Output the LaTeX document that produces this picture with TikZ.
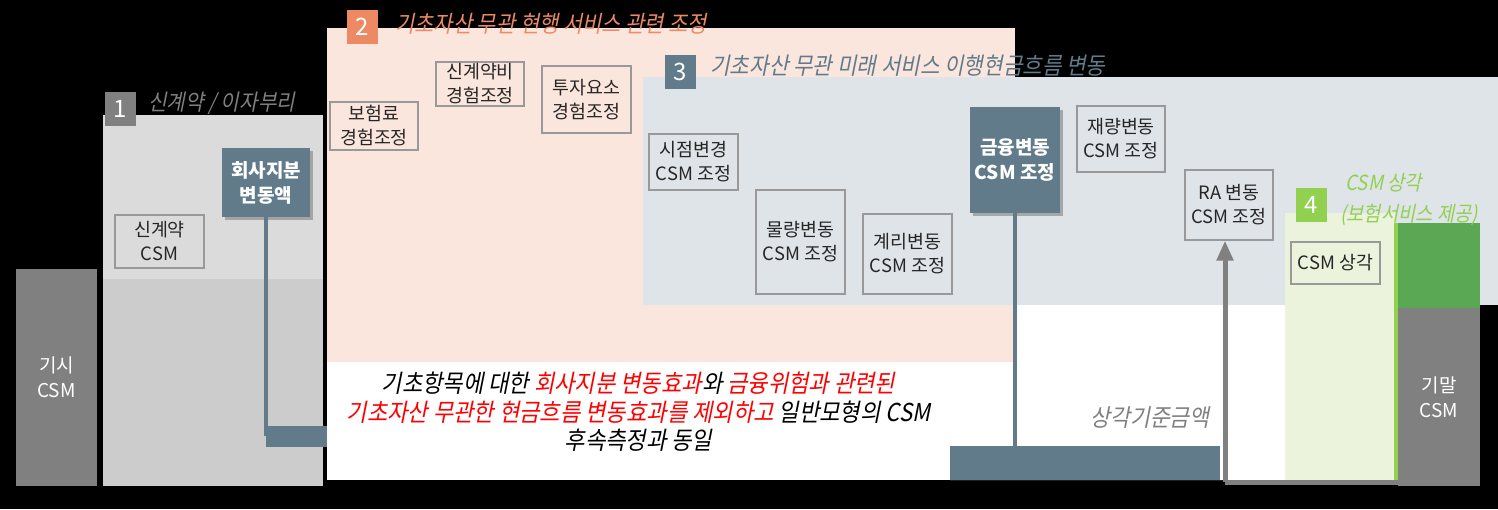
\documentclass[tikz,border=0pt]{standalone}
\usepackage{fontspec}
\setmainfont{Noto Sans CJK KR}
\newfontfamily\krit{Noto Sans CJK KR}[FakeSlant=0.2,FakeStretch=0.9]
\usetikzlibrary{shadows,arrows.meta}
\definecolor{slate}{HTML}{617B8A}
\definecolor{panelgray}{HTML}{DBDBDB}
\definecolor{panelgrayd}{HTML}{CCCCCC}
\definecolor{panelpink}{HTML}{FBE6DE}
\definecolor{tabpink}{HTML}{EE8A63}
\definecolor{panelblue}{HTML}{DEE4E8}
\definecolor{panelgreen}{HTML}{EBF3DC}
\definecolor{tabgreen}{HTML}{92D050}
\definecolor{darkgreen}{HTML}{5AA854}
\definecolor{bargray}{HTML}{808080}
\definecolor{txtred}{HTML}{FF0000}
\begin{document}
\begin{tikzpicture}[x=0.5pt,y=-0.5pt,
  cbox/.style={draw=bargray!80,line width=0.6pt,align=center,inner sep=0pt,font=\fontsize{9.2}{12}\selectfont,text=black!85},
  sbox/.style={fill=slate,align=center,inner sep=0pt,font=\bfseries\fontsize{9.5}{12.5}\selectfont,text=white,drop shadow={shadow xshift=1.5pt,shadow yshift=-1.5pt,opacity=0.6}},
  csmbar/.style={fill=bargray,align=center,inner sep=0pt,font=\fontsize{9.5}{12.5}\selectfont,text=white},
  tab/.style={minimum width=15.5pt,minimum height=17pt,inner sep=0pt,text=white,font=\fontsize{12}{12}\selectfont},
  head/.style={anchor=west,font=\krit\fontsize{11.2}{12}\selectfont,inner sep=0pt}]
\useasboundingbox (0,0) rectangle (1498,509);
\fill[black] (0,0) rectangle (1498,509);

% The panels
\fill[panelgray] (103,115) rectangle (323,279);
\fill[panelgrayd] (103,279) rectangle (323,486);
\fill[panelpink] (327,28) rectangle (1015,362);
\fill[panelblue] (643,77) rectangle (1498,305);
\fill[panelgreen] (1285,213) rectangle (1395,484);
\fill[darkgreen] (1395,223) rectangle (1480,308);
\fill[tabgreen] (1394,223) rectangle (1398,482);
\fill[white] (950,362) -- (1015,362) -- (1015,305) -- (1285,305) -- (1285,480) -- (950,480) -- cycle;

% The note
\node[fill=white,minimum width=311.5pt,minimum height=59pt,inner sep=0pt] (note) at (638.5,421) {};
\node[align=center,inner sep=0pt,font=\krit\fontsize{12.3}{14.2}\selectfont] (notetext) at ([yshift=4.5pt]note.center)
{기초항목에 대한 \textcolor{txtred}{회사지분 변동효과}와 \textcolor{txtred}{금융위험과 관련된}\\
\textcolor{txtred}{기초자산 무관한 현금흐름 변동효과를 제외하고} 일반모형의 CSM\\
후속측정과 동일};

% The boxes
\node[cbox,minimum width=44.5pt,minimum height=26.5pt] (newc) at (159.5,241.5) {신계약\\CSM};
\node[cbox,minimum width=44pt,minimum height=24pt] (prem) at (374,126) {보험료\\경험조정};
\node[cbox,minimum width=44pt,minimum height=22pt] (acq) at (480,84) {신계약비\\경험조정};
\node[cbox,minimum width=44.5pt,minimum height=33.5pt] (inv) at (586.5,99.5) {투자요소\\경험조정};
\node[cbox,minimum width=44.5pt,minimum height=28pt] (timing) at (693.5,162) {시점변경\\CSM 조정};
\node[cbox,minimum width=44.5pt,minimum height=52pt] (vol) at (800.5,242) {물량변동\\CSM 조정};
\node[cbox,minimum width=44.5pt,minimum height=40pt] (act) at (907.5,254) {계리변동\\CSM 조정};
\node[cbox,minimum width=44pt,minimum height=33pt] (disc) at (1121,139) {재량변동\\CSM 조정};
\node[cbox,minimum width=44pt,minimum height=35pt] (ra) at (1229,205) {RA 변동\\CSM 조정};
\node[cbox,minimum width=44.5pt,minimum height=21pt] (amort) at (1335.5,263) {CSM 상각};
\node[sbox,minimum width=44pt,minimum height=34.5pt] (share) at (266,182.5) {회사지분\\변동액};
\node[sbox,minimum width=45pt,minimum height=53pt] (fin) at (1015,160) {금융변동\\CSM 조정};

% The CSM bars
\node[csmbar,minimum width=40.5pt,minimum height=108.5pt] (open) at (56.5,377.5) {기시\\CSM};
\node[csmbar,minimum width=41pt,minimum height=89pt] (close) at (1439,397) {기말\\CSM};

% Connectors
\coordinate (lk) at (266,436);
\draw[slate,line width=2pt] (share.south) -- (lk);
\draw[slate,line width=10.5pt] (lk) -- (lk -| note.west);
\coordinate (fk) at (1015,463);
\coordinate (fe) at (1220,463);
\draw[slate,line width=2pt] (fin.south) -- (fk);
\draw[slate,line width=17pt] (fk -| note.east) -- (fe);
\coordinate (gk) at (1225,482);
\draw[bargray,line width=2.5pt,-{Triangle[length=10pt,width=8pt]}] (gk) -- (gk |- ra.south);
\draw[bargray,line width=2.5pt] (gk) -- (gk -| close.west);

% The tabs and headings
\node[tab,fill=bargray] (t1) at (120,109) {1};
\node[tab,fill=tabpink] (t2) at (362.5,27) {2};
\node[tab,fill=slate] (t3) at (680.5,71.5) {3};
\node[tab,fill=tabgreen] (t4) at (1311.5,205) {4};
\node[head,text=bargray] (h1) at (148,103) {신계약 / 이자부리};
\node[head,text=tabpink,font=\krit\fontsize{11.6}{12}\selectfont] (h2) at (395,24) {기초자산 무관 현행 서비스 관련 조정};
\node[head,text=slate,font=\krit\fontsize{11.8}{12}\selectfont] (h3) at (710,66) {기초자산 무관 미래 서비스 이행현금흐름 변동};
\node[head,text=tabgreen,font=\krit\fontsize{10.4}{12}\selectfont] (h4) at (1345,183) {CSM 상각};
\node[head,text=tabgreen,font=\krit\fontsize{10.4}{12}\selectfont] (h5) at (1340,215) {(보험서비스 제공)};
\node[head,text=bargray,font=\krit\fontsize{12}{12}\selectfont] (base) at (1090,418) {상각기준금액};
\end{tikzpicture}
\end{document}
